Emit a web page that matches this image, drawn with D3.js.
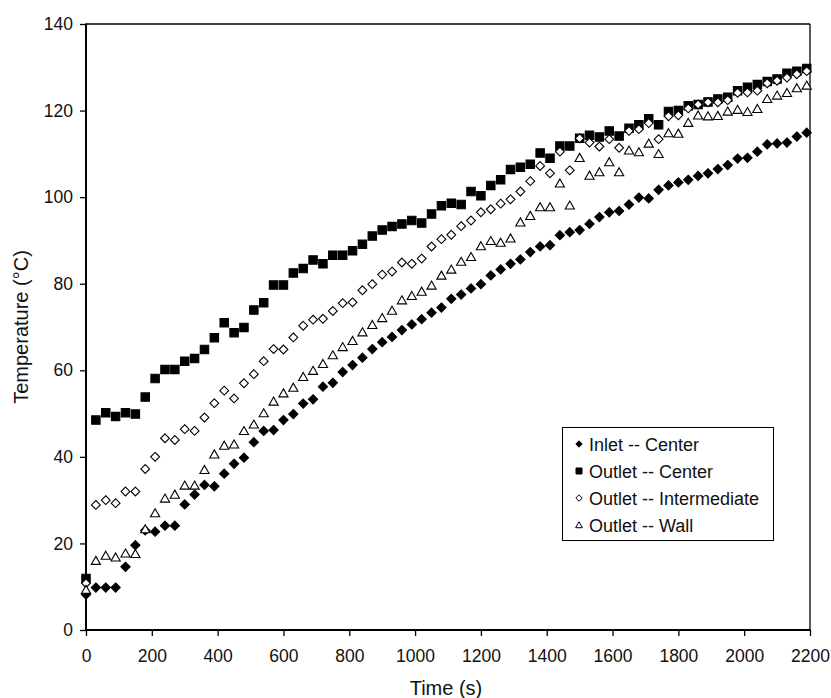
<!DOCTYPE html>
<html>
<head>
<meta charset="utf-8">
<script src="https://cdn.jsdelivr.net/npm/d3@7"></script>
<style>
  html, body { margin: 0; padding: 0; background: #fff; }
  svg { display: block; font-family: "Liberation Sans", Arial, sans-serif; }
</style>
</head>
<body>
<svg id="chart" width="831" height="698"></svg>
<script>
const times = [0,30,60,90,120,150,180,210,240,270,300,330,360,390,420,450,480,510,540,570,
  600,630,660,690,720,750,780,810,840,870,900,930,960,990,1020,1050,1080,1110,1140,1170,
  1200,1230,1260,1290,1320,1350,1380,1410,1440,1470,1500,1530,1560,1590,1620,1650,1680,1710,1740,1770,
  1800,1830,1860,1890,1920,1950,1980,2010,2040,2070,2100,2130,2160,2190];

const inletCenter = [8.2,9.8,9.8,9.8,14.6,19.6,23.0,22.7,24.1,24.1,
  29.0,31.3,33.5,33.2,36.1,38.4,39.8,43.4,46.0,46.2,
  48.5,49.9,52.3,53.3,56.2,57.1,59.6,61.2,62.9,64.9,
  66.5,67.7,69.3,70.6,71.8,73.3,74.5,76.5,77.5,78.9,
  79.9,81.9,83.3,84.6,85.6,87.3,88.6,88.9,91.2,91.9,
  92.4,93.8,95.4,96.5,96.8,98.3,99.9,99.7,101.7,102.7,
  103.4,104.0,104.9,105.5,106.5,107.4,108.9,109.1,110.5,112.2,
  112.4,112.6,114.0,114.9];

const outletCenter = [11.9,48.5,50.2,49.3,50.2,49.9,53.8,58.1,60.2,60.2,
  62.1,62.7,64.8,67.5,71.0,68.7,69.9,73.9,75.6,79.7,
  79.7,82.5,83.5,85.5,84.6,86.6,86.6,87.6,89.1,91.0,
  92.4,93.2,93.8,94.6,94.0,96.1,98.0,98.6,98.3,101.3,
  100.3,102.7,104.0,106.4,106.9,107.6,110.2,109.0,111.8,111.8,
  113.6,114.3,113.9,115.3,114.1,115.9,116.7,118.1,116.7,119.8,
  120.0,121.1,121.4,122.0,122.7,123.1,124.6,125.4,126.0,126.7,
  127.3,128.6,129.1,129.7];

const outletIntermediate = [10.8,28.9,30.0,29.3,32.0,32.0,37.2,40.0,44.3,43.9,
  46.4,46.0,49.1,52.4,55.3,53.5,57.0,59.1,62.1,64.9,
  64.8,67.6,70.3,71.7,71.9,73.7,75.5,75.7,78.5,79.9,
  82.1,82.8,84.9,84.6,85.8,88.6,90.3,91.3,93.3,94.6,
  96.5,97.2,98.5,99.5,101.3,103.7,107.2,105.5,110.5,106.2,
  113.6,112.6,111.7,113.4,111.4,115.3,115.7,117.1,113.4,118.7,
  118.9,120.5,121.4,121.9,121.9,122.4,124.1,124.2,124.6,126.3,
  126.9,127.6,128.4,129.1];

const outletWall = [9.3,16.0,17.2,16.8,17.7,17.6,23.3,27.0,30.4,31.3,
  33.4,33.4,37.0,40.6,42.6,42.9,46.0,47.5,50.1,52.8,
  54.7,56.0,58.5,59.9,61.5,63.5,65.4,66.8,68.8,70.5,
  72.1,73.8,76.2,77.2,78.2,79.6,81.9,83.3,85.1,86.2,
  88.7,89.9,89.5,90.5,94.2,95.7,97.7,97.7,103.2,98.1,
  109.1,105.0,105.8,108.1,105.8,110.8,110.4,112.4,110.0,114.8,
  114.7,117.2,118.9,118.7,118.8,119.8,120.2,119.7,120.4,122.7,
  123.5,124.1,125.2,125.8];

const seriesNames = ["Inlet -- Center", "Outlet -- Center", "Outlet -- Intermediate", "Outlet -- Wall"];
const xTicks = [0,200,400,600,800,1000,1200,1400,1600,1800,2000,2200];
const yTicks = [0,20,40,60,80,100,120,140];

const svg = d3.select("#chart");
const L = 86, R = 810, T = 24, B = 630;
const x = d3.scaleLinear().domain([0, 2200]).range([L, R]);
const y = d3.scaleLinear().domain([0, 140]).range([B, T]);

// marker shapes (r = half size)
const shapes = {
  diamond: r => `M0,${-r}L${r},0L0,${r}L${-r},0Z`,
  square: r => `M${-r},${-r}H${r}V${r}H${-r}Z`,
  triangle: r => `M0,${-r*0.95}L${r},${r*0.8}L${-r},${r*0.8}Z`
};
const styles = [
  {shape: "diamond", fill: "#000", stroke: "#000", r: 4.6, lr: 3.2},
  {shape: "square", fill: "#000", stroke: "#000", r: 4.2, lr: 3.0},
  {shape: "diamond", fill: "#fff", stroke: "#000", r: 4.4, lr: 3.2},
  {shape: "triangle", fill: "#fff", stroke: "#000", r: 4.6, lr: 3.4}
];
const allSeries = [inletCenter, outletCenter, outletIntermediate, outletWall];

// axes
const yAxis = d3.axisLeft(y).tickValues(yTicks).tickSize(6).tickSizeOuter(0).tickPadding(7)
  .tickFormat(d3.format("d"));
const xAxis = d3.axisBottom(x).tickValues(xTicks).tickSize(6).tickSizeOuter(0).tickPadding(14)
  .tickFormat(d3.format("d"));

const gy = svg.append("g").attr("transform", `translate(${L},0)`).call(yAxis);
const gx = svg.append("g").attr("transform", `translate(0,${B})`).call(xAxis);
[gx, gy].forEach(g => {
  g.select(".domain").remove();
  g.selectAll(".tick line").attr("stroke", "#000").attr("stroke-width", 1.3);
  g.selectAll(".tick text").attr("fill", "#111").style("font-size", "17.5px")
    .style("font-family", '"Liberation Sans", Arial, sans-serif');
});

// frame
svg.append("line").attr("x1", L).attr("x2", R).attr("y1", T).attr("y2", T)
  .attr("stroke", "#000").attr("stroke-width", 1.3);
svg.append("line").attr("x1", R).attr("x2", R).attr("y1", T).attr("y2", B)
  .attr("stroke", "#000").attr("stroke-width", 1.3);
svg.append("line").attr("x1", L).attr("x2", L).attr("y1", T - 0.6).attr("y2", B + 1)
  .attr("stroke", "#000").attr("stroke-width", 2);
svg.append("line").attr("x1", L - 1).attr("x2", R + 0.6).attr("y1", B).attr("y2", B)
  .attr("stroke", "#000").attr("stroke-width", 2);

// points
allSeries.forEach((vals, si) => {
  const st = styles[si];
  svg.append("g").selectAll("path").data(vals).join("path")
    .attr("transform", (d, i) => `translate(${x(times[i])},${y(d)})`)
    .attr("d", shapes[st.shape](st.r))
    .attr("fill", st.fill).attr("stroke", st.stroke).attr("stroke-width", 1.1);
});

// axis titles
svg.append("text").attr("x", 446).attr("y", 695).attr("text-anchor", "middle")
  .style("font-size", "20px").attr("fill", "#111").text("Time (s)");
svg.append("text").attr("transform", "translate(28,327) rotate(-90)").attr("text-anchor", "middle")
  .style("font-size", "20px").attr("fill", "#111").text("Temperature (°C)");

// legend
const lg = svg.append("g");
lg.append("rect").attr("x", 562.5).attr("y", 427.5).attr("width", 211).attr("height", 113)
  .attr("fill", "#fff").attr("stroke", "#000").attr("stroke-width", 1);
seriesNames.forEach((name, i) => {
  const st = styles[i];
  const cy = 444 + i * 27;
  lg.append("path").attr("transform", `translate(579,${cy})`)
    .attr("d", shapes[st.shape](st.lr))
    .attr("fill", st.fill).attr("stroke", st.stroke).attr("stroke-width", 1);
  lg.append("text").attr("x", 589).attr("y", cy + 6.5)
    .style("font-size", "18px").attr("fill", "#111").text(name);
});
</script>
</body>
</html>
